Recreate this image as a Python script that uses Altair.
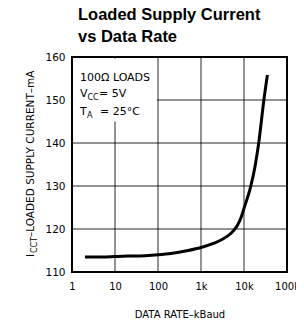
import altair as alt
import pandas as pd

# Curve
rate_kbaud = [2, 5, 10, 20, 50, 100, 200, 500, 1000, 2000, 3000, 5000, 7000,
              8500, 10000, 14000, 18000, 22000, 29000, 35000]
current_ma = [113.5, 113.5, 113.6, 113.7, 113.8, 114.0, 114.3, 115.0, 115.7,
              116.7, 117.5, 119.0, 120.8, 122.6, 124.8, 129.5, 134.5, 140.0, 150.0, 155.8]

x_ticks = [1, 10, 100, 1000, 10000, 100000]
x_tick_labels = ["1", "10", "100", "1k", "10k", "100k"]
y_ticks = [110, 120, 130, 140, 150, 160]

title_lines = ["Loaded Supply Current", "vs Data Rate"]
x_title = "DATA RATE–kBaud"

# extent of the blank area behind the conditions legend (data units)
note_box = {"x0": [1.06], "x1": [95], "y0": [145], "y1": [159.6]}

df = pd.DataFrame({"rate": rate_kbaud, "icc": current_ma})
vgrid = pd.DataFrame({"gx": x_ticks[1:-1]})
hgrid = pd.DataFrame({"gy": y_ticks[1:-1]})

label_map = "{" + ",".join(f"'{v}':'{l}'" for v, l in zip(x_ticks, x_tick_labels)) + "}"

XDOM = [1, 100000]
YDOM = [110, 160]

FONT = "DejaVu Sans"
GRID = "black"

xaxis = alt.Axis(values=x_ticks, labelExpr=f"{label_map}[datum.value]",
                 title=x_title, grid=False, ticks=False, domain=False,
                 labelPadding=9, labelFont=FONT, labelFontSize=10,
                 labelColor="black", titleFont=FONT, titleFontSize=10,
                 titleFontWeight="normal", titleColor="black",
                 titlePadding=18, labelFlush=False)
yaxis = alt.Axis(values=y_ticks, title=None, grid=False, ticks=False,
                 domain=False, labelPadding=7, labelFont=FONT,
                 labelFontSize=10.5, labelColor="black")

curve = alt.Chart(df).mark_line(color="black", strokeWidth=3, interpolate="monotone").encode(
    x=alt.X("rate:Q", scale=alt.Scale(type="log", domain=XDOM, nice=False), axis=xaxis),
    y=alt.Y("icc:Q", scale=alt.Scale(domain=YDOM, nice=False, zero=False), axis=yaxis),
)

gx_scale = alt.Scale(type="log", domain=XDOM, nice=False)
gy_scale = alt.Scale(domain=YDOM, nice=False, zero=False)

vrules = alt.Chart(vgrid).mark_rule(color=GRID, strokeWidth=1, opacity=0.85).encode(
    x=alt.X("gx:Q", scale=gx_scale, axis=None))
hrules = alt.Chart(hgrid).mark_rule(color=GRID, strokeWidth=1, opacity=0.85).encode(
    y=alt.Y("gy:Q", scale=gy_scale, axis=None))

# white box behind the conditions text (covers grid there)
box = alt.Chart(pd.DataFrame(note_box)).mark_rect(color="white").encode(
    x=alt.X("x0:Q", scale=gx_scale, axis=None), x2="x1:Q",
    y=alt.Y("y0:Q", scale=gy_scale, axis=None), y2="y1:Q",
)

grid_layer = alt.layer(vrules, hrules, box)

def txt(text, x, y, size=11, **kw):
    return alt.Chart(pd.DataFrame({"t": [text]})).mark_text(
        font=FONT, fontSize=size, align="left", baseline="alphabetic",
        color="black", **kw
    ).encode(text="t:N", x=alt.value(x), y=alt.value(y))

notes = [
    txt("100Ω LOADS", 8, 24),
    txt("V", 8, 40), txt("CC", 15.5, 43, size=8), txt("= 5V", 27, 40),
    txt("T", 8, 58), txt("A", 15, 61, size=8), txt("= 25°C", 28, 58),
    # rotated y-axis title with subscript
    txt("I", -38, 200, size=10.5, angle=270),
    txt("CCT", -35, 196, size=8, angle=270),
    txt("–LOADED SUPPLY CURRENT–mA", -38, 180, size=10.5, angle=270),
]

chart = alt.layer(curve, grid_layer, *notes).resolve_scale(
    x="independent", y="independent"
).properties(
    width=215, height=215,
    autosize=alt.AutoSizeParams(type="none"),
    padding={"left": 64, "top": 49, "right": 9, "bottom": 46},
    title=alt.TitleParams(text=title_lines, anchor="start", frame="group",
                          font="Liberation Sans", fontSize=16.5, fontWeight="bold",
                          color="black", lineHeight=22, offset=7, dx=6),
).configure_view(stroke="black", strokeWidth=2)

chart.save("out.html", embed_options={"renderer": "svg", "actions": False})
